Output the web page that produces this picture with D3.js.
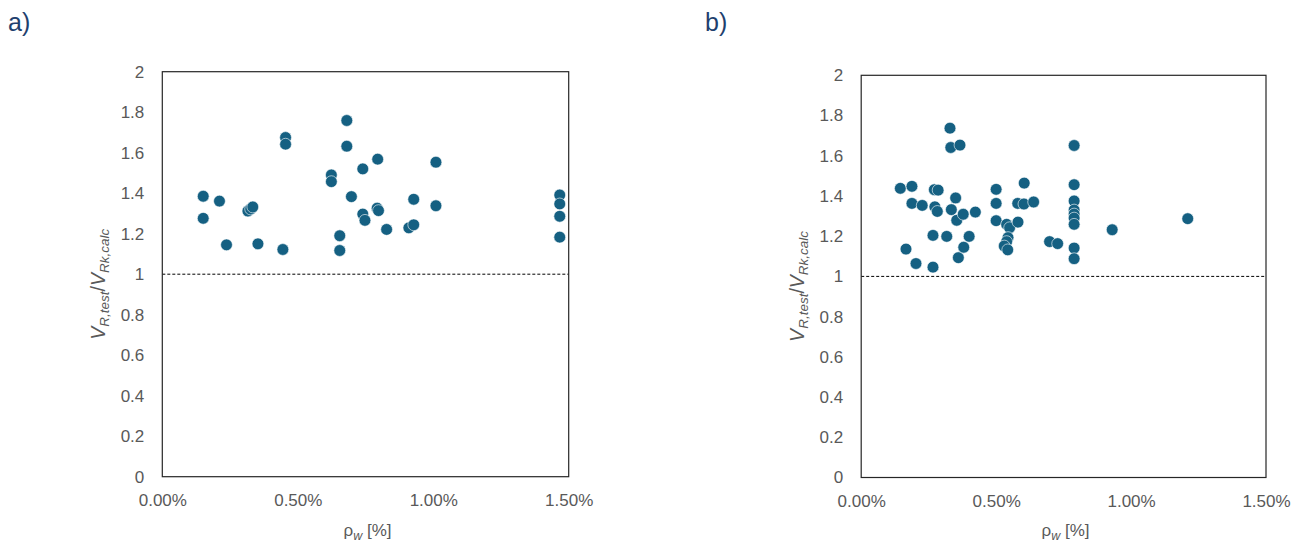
<!DOCTYPE html>
<html>
<head>
<meta charset="utf-8">
<script src="https://cdn.jsdelivr.net/npm/d3@7"></script>
<style>
  body { margin: 0; background: #fff; }
  svg { display: block; }
  text { font-family: 'Liberation Sans', Arial, sans-serif; }
</style>
</head>
<body>
<svg width="1302" height="546"></svg>
<script>
const w = 1302;
const h = 546;

// panel a) reinforcement ratio [%] and V_R,test / V_Rk,calc
const aRho = [0.151, 0.151, 0.211, 0.237, 0.316, 0.326, 0.334, 0.353, 0.445, 0.455, 0.455,
  0.624, 0.624, 0.655, 0.655, 0.681, 0.681, 0.698, 0.740, 0.740, 0.748, 0.795, 0.793, 0.798,
  0.828, 0.910, 0.928, 0.928, 1.010, 1.010, 1.467, 1.467, 1.467, 1.467];
const aRatio = [1.385, 1.276, 1.361, 1.145, 1.312, 1.322, 1.332, 1.150, 1.122, 1.675, 1.642,
  1.490, 1.457, 1.190, 1.117, 1.759, 1.632, 1.383, 1.520, 1.297, 1.266, 1.568, 1.326, 1.314,
  1.221, 1.229, 1.244, 1.370, 1.553, 1.338, 1.391, 1.347, 1.286, 1.183];

// panel b)
const bRho = [0.145, 0.166, 0.188, 0.188, 0.203, 0.226, 0.266, 0.266, 0.271, 0.285, 0.273,
  0.282, 0.317, 0.329, 0.332, 0.366, 0.334, 0.350, 0.354, 0.360, 0.378, 0.380, 0.400, 0.423,
  0.500, 0.500, 0.500, 0.539, 0.550, 0.544, 0.539, 0.530, 0.543, 0.580, 0.581, 0.604, 0.603,
  0.639, 0.698, 0.728, 0.789, 0.789, 0.789, 0.789, 0.789, 0.789, 0.789, 0.789, 0.789, 0.930, 1.210];
const bRatio = [1.438, 1.136, 1.448, 1.363, 1.064, 1.353, 1.046, 1.204, 1.431, 1.429, 1.346,
  1.323, 1.199, 1.737, 1.641, 1.653, 1.332, 1.390, 1.279, 1.093, 1.309, 1.145, 1.199, 1.320,
  1.433, 1.363, 1.277, 1.259, 1.242, 1.193, 1.173, 1.151, 1.132, 1.363, 1.270, 1.464, 1.360,
  1.370, 1.173, 1.163, 1.651, 1.456, 1.375, 1.330, 1.310, 1.290, 1.259, 1.141, 1.088, 1.232, 1.287];

const xTicks = [0, 0.5, 1.0, 1.5];
const yTicks = [0, 0.2, 0.4, 0.6, 0.8, 1, 1.2, 1.4, 1.6, 1.8, 2];
const panelLabels = ['a)', 'b)'];

const svg = d3.select('svg');

const panels = [
  { label: panelLabels[0], rho: aRho, ratio: aRatio, x0: 162.3, x1: 568.7, y0: 476.7, y1: 71.7, labelX: 8 },
  { label: panelLabels[1], rho: bRho, ratio: bRatio, x0: 861.2, x1: 1266, y0: 477.5, y1: 75.3, labelX: 705 }
];

const grey = '#595959';

panels.forEach(p => {
  const xScale = d3.scaleLinear().domain([0, 1.5]).range([p.x0, p.x1]);
  const yScale = d3.scaleLinear().domain([0, 2]).range([p.y0, p.y1]);

  const g = svg.append('g');

  // panel letter
  g.append('text')
    .attr('x', p.labelX)
    .attr('y', 31)
    .attr('font-size', 25)
    .attr('fill', '#1f3f6e')
    .text(p.label);

  // y tick labels (no tick marks, no domain line)
  g.append('g')
    .attr('transform', `translate(${p.x0},0)`)
    .call(d3.axisLeft(yScale).tickValues(yTicks).tickSize(0).tickPadding(18)
      .tickFormat(d => d3.format('~g')(d)))
    .call(a => a.select('.domain').remove())
    .selectAll('text')
    .attr('font-size', 17)
    .attr('font-family', "'Liberation Sans', Arial, sans-serif")
    .attr('fill', grey);

  // x tick labels
  g.append('g')
    .attr('transform', `translate(0,${p.y0})`)
    .call(d3.axisBottom(xScale).tickValues(xTicks).tickSize(0).tickPadding(17)
      .tickFormat(d => d3.format('.2f')(d) + '%'))
    .call(a => a.select('.domain').remove())
    .selectAll('text')
    .attr('font-size', 17)
    .attr('font-family', "'Liberation Sans', Arial, sans-serif")
    .attr('fill', grey);

  // reference line at ratio = 1
  g.append('line')
    .attr('x1', p.x0).attr('x2', p.x1)
    .attr('y1', yScale(1)).attr('y2', yScale(1))
    .attr('stroke', '#000')
    .attr('stroke-width', 1)
    .attr('stroke-dasharray', '3,2');

  // plot area border
  g.append('rect')
    .attr('x', p.x0).attr('y', p.y1)
    .attr('width', p.x1 - p.x0).attr('height', p.y0 - p.y1)
    .attr('fill', 'none')
    .attr('stroke', '#262626')
    .attr('stroke-width', 1.2);

  // points
  g.append('g')
    .selectAll('circle')
    .data(p.rho.map((r, i) => [r, p.ratio[i]]))
    .enter()
    .append('circle')
    .attr('cx', d => xScale(d[0]))
    .attr('cy', d => yScale(d[1]))
    .attr('r', 5.9)
    .attr('fill', '#156082')
    .attr('stroke', '#fff')
    .attr('stroke-width', 0.6);

  // y axis title
  const yt = g.append('text')
    .attr('transform', `translate(${p.x0 - 57},${yScale(1) + 10}) rotate(-90)`)
    .attr('text-anchor', 'middle')
    .attr('font-size', 19.5)
    .attr('fill', grey);
  yt.append('tspan').attr('font-style', 'italic').text('V');
  yt.append('tspan').attr('font-style', 'italic').attr('font-size', 13.5).attr('dy', 4).text('R,test');
  yt.append('tspan').attr('dy', -4).text('/');
  yt.append('tspan').attr('font-style', 'italic').text('V');
  yt.append('tspan').attr('font-style', 'italic').attr('font-size', 13.5).attr('dy', 4).text('Rk,calc');

  // x axis title
  const xt = g.append('text')
    .attr('x', (p.x0 + p.x1) / 2 + 2)
    .attr('y', 536)
    .attr('text-anchor', 'middle')
    .attr('font-size', 17)
    .attr('fill', grey);
  xt.append('tspan').text('ρ');
  xt.append('tspan').attr('font-style', 'italic').attr('font-size', 12.5).attr('dy', 4).text('w');
  xt.append('tspan').attr('dy', -4).text(' [%]');
});
</script>
</body>
</html>
